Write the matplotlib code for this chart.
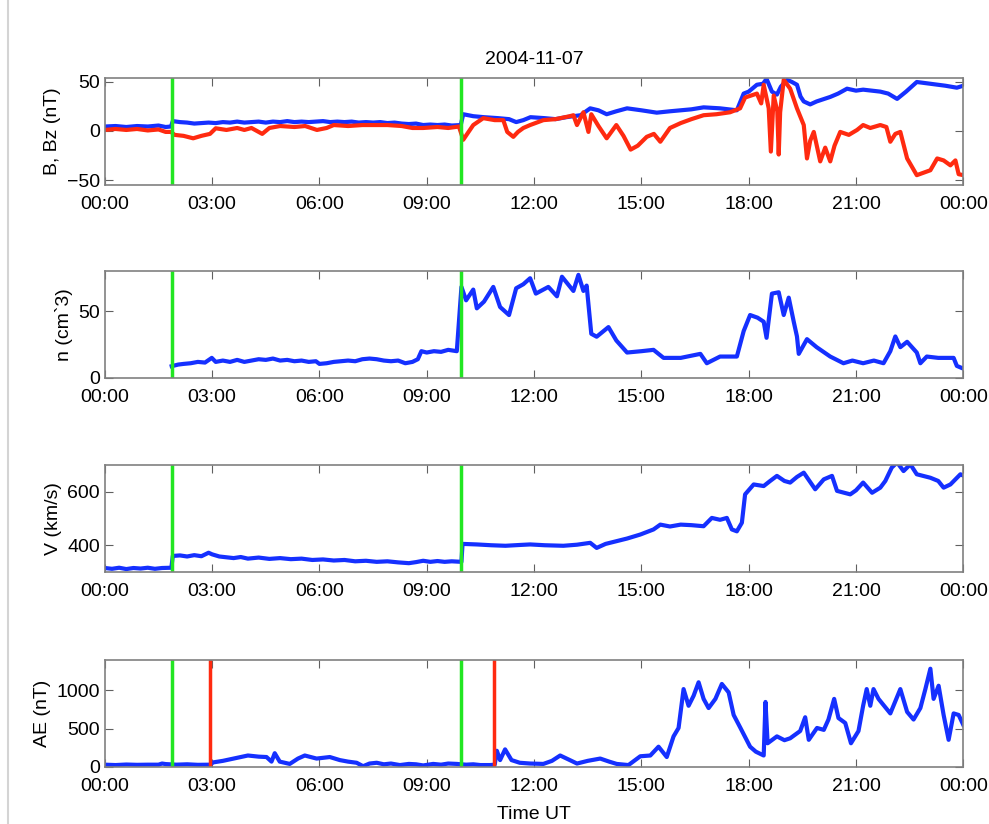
import numpy as np
import matplotlib
matplotlib.use('Agg')
import matplotlib.pyplot as plt
from matplotlib.lines import Line2D

plt.rcParams['font.family'] = ['Liberation Sans', 'DejaVu Sans']
plt.rcParams['font.size'] = 14

# 时间单位: 小时 (UT)
b_t = [0, 0.3, 0.6, 0.9, 1.2, 1.5, 1.7, 1.85,
       1.9, 2.1, 2.3, 2.5, 2.7, 2.9, 3.1, 3.3, 3.5, 3.7, 3.9, 4.1, 4.3, 4.5, 4.7, 4.9, 5.1, 5.3, 5.5, 5.7, 5.9, 6.1,
       6.3, 6.5, 6.7, 6.9, 7.1, 7.3, 7.5, 7.7, 7.9, 8.1, 8.3, 8.5, 8.7, 8.9, 9.1, 9.3, 9.5, 9.7, 9.95,
       10.02, 10.3, 10.6, 11.0, 11.3, 11.5, 11.7, 11.9, 12.3, 12.6, 12.9, 13.3, 13.57, 13.8, 14.03, 14.3, 14.6,
       15.0, 15.43, 15.8, 16.1, 16.4, 16.74, 17.2, 17.67, 17.86, 18.0, 18.23, 18.4, 18.5, 18.65, 18.79, 18.9, 19.07, 19.2,
       19.35, 19.45, 19.54, 19.72, 19.9, 20.28, 20.5, 20.75, 21.0, 21.2, 21.68, 21.9, 22.15, 22.4, 22.7, 23.08, 23.5, 23.82, 24.0]
b_val = [4.5, 5, 4, 5, 4.5, 5.5, 4, 4.5,
         10, 9, 8.5, 7.5, 8, 8.5, 8, 9, 8.5, 9.5, 8.5, 9, 9.5, 8.5, 9.5, 9, 10, 9, 9.5, 9, 9.5, 10,
         9, 9.5, 9, 9.5, 8.5, 9, 8.5, 9, 8, 8.5, 7.5, 7, 7.5, 6, 6.5, 6, 6.5, 5.5, 6,
         17, 15, 14, 13, 12, 9, 11, 14, 13, 12, 14, 16, 23, 21, 17, 20, 23,
         21, 18.6, 20, 21, 22, 24, 23, 21, 38, 40, 47, 48, 53, 40, 37, 45, 52, 50,
         47, 35, 30, 27, 30, 34.6, 38, 43, 41, 42, 40, 38, 32.6, 40, 49.8, 48, 46, 44, 46]

bz_t = [0, 0.3, 0.6, 0.9, 1.2, 1.5, 1.7, 1.85, 1.95, 2.2, 2.47, 2.7, 2.94, 3.1, 3.4, 3.7, 3.9, 4.1, 4.4, 4.6, 4.9, 5.3, 5.6,
        5.93, 6.2, 6.4, 6.8, 7.2, 7.6, 7.9, 8.3, 8.6, 8.9, 9.3, 9.6, 9.9, 10.02, 10.15, 10.3, 10.58, 10.9, 11.14, 11.25,
        11.42, 11.55, 11.7, 11.89, 12.26, 12.6, 13.0, 13.1, 13.2, 13.38, 13.52, 13.6, 13.8, 14.03, 14.3, 14.5, 14.7, 14.9,
        15.15, 15.35, 15.53, 15.8, 16.1, 16.4, 16.74, 17.1, 17.48, 17.76, 17.9, 18.23, 18.35, 18.42, 18.56, 18.62, 18.7,
        18.8, 18.84, 18.88, 18.98, 19.16, 19.35, 19.54, 19.63, 19.72, 19.82, 20.0, 20.14, 20.28, 20.4, 20.56, 20.8, 21.03,
        21.2, 21.4, 21.68, 21.85, 21.96, 22.1, 22.24, 22.43, 22.7, 23.08, 23.27, 23.45, 23.64, 23.78, 23.87, 24.0]
bz_val = [1, 2, 1, 2, 0.5, 1.5, -1, -1, -4, -5, -7.5, -5, -3, 2.7, 1, 3, 1, 3, -3, 3, 5, 4, 5,
          1, 3, 6, 5, 6, 6, 6, 5, 3, 3, 4, 3, 4.5, -9, -2, 6, 13, 11, 11, -1,
          -6, -1, 3, 6, 11, 12, 15, 16, 6, 19, -1, 17, 5, -7.5, 6, -5, -19, -15,
          -6, -3, -11, 3, 8, 12, 16, 17, 19, 23, 34, 38, 28, 47, 23, -21, 36,
          20, -24, 19, 52, 43, 23, 6, -28, -10, -1, -31, -17, -31, -15, -1, -4, 1,
          6, 3, 6, 4, -11, -3, -1, -28, -45, -40, -28, -30, -35, -30, -44, -45]

n_t = [1.87, 2.05, 2.2, 2.4, 2.6, 2.8, 2.99, 3.1, 3.3, 3.5, 3.7, 3.9, 4.1, 4.3, 4.5, 4.7, 4.9, 5.1, 5.3, 5.5, 5.7, 5.9,
       6.0, 6.2, 6.4, 6.6, 6.8, 7.0, 7.2, 7.4, 7.6, 7.8, 8.0, 8.2, 8.4, 8.6, 8.75, 8.85, 9.0, 9.2, 9.4, 9.6, 9.84,
       9.97, 10.1, 10.3, 10.4, 10.6, 10.86, 11.05, 11.3, 11.5, 11.7, 11.89, 12.05, 12.4, 12.64, 12.78, 13.1, 13.24, 13.38,
       13.47, 13.6, 13.75, 14.08, 14.3, 14.6, 15.0, 15.34, 15.62, 16.1, 16.65, 16.83, 17.2, 17.67, 17.86, 18.04, 18.25,
       18.42, 18.5, 18.65, 18.84, 18.98, 19.12, 19.26, 19.35, 19.4, 19.63, 19.9, 20.28, 20.65, 20.9, 21.2, 21.5, 21.77,
       21.96, 22.1, 22.24, 22.43, 22.7, 22.8, 22.98, 23.3, 23.73, 23.82, 24.0]
n_val = [8.8, 10, 10.5, 11, 12, 11.5, 15, 12, 13, 12, 13.5, 12, 13, 14, 13.5, 14.5, 13, 13.5, 12.5, 13, 12, 12.5,
         10.5, 11, 12, 12.5, 13, 12.5, 14, 14.5, 14, 13, 12.5, 13, 11, 12, 14, 20, 19, 20, 19.5, 21, 20,
         68, 58, 66, 52, 57, 68, 53, 47, 67, 70, 74.5, 63, 68, 61, 75.6, 65, 77, 65,
         69, 33, 30.8, 38, 28, 19, 20, 21, 15, 15, 18, 11, 16, 16, 35, 47, 45,
         42, 30, 63, 64, 47, 60, 42, 31, 18, 29, 23, 16, 11, 13, 11, 13, 11,
         20, 31, 23, 27, 19, 11, 16, 15, 15, 9, 7]

v_t = [0, 0.2, 0.4, 0.6, 0.8, 1.0, 1.2, 1.4, 1.6, 1.86,
       1.9, 2.1, 2.3, 2.5, 2.7, 2.9, 3.0, 3.2, 3.4, 3.6, 3.8, 4.0, 4.3, 4.6, 4.9, 5.2, 5.5, 5.8, 6.1, 6.4, 6.7, 7.0,
       7.3, 7.6, 7.9, 8.2, 8.5, 8.7, 8.9, 9.1, 9.3, 9.5, 9.7, 9.97,
       10.0, 10.4, 10.8, 11.2, 11.6, 11.89, 12.3, 12.82, 13.2, 13.57, 13.75, 14.0, 14.3, 14.6, 14.97, 15.34,
       15.53, 15.8, 16.1, 16.4, 16.74, 16.97, 17.2, 17.39, 17.53, 17.67, 17.81, 17.9, 18.14, 18.42, 18.6, 18.79, 19.0,
       19.16, 19.35, 19.54, 19.7, 19.86, 20.1, 20.33, 20.47, 20.84, 21.0, 21.2, 21.45, 21.68, 21.82, 22.0, 22.15, 22.33,
       22.52, 22.7, 23.08, 23.3, 23.45, 23.64, 23.92, 24.0]
v_val = [315, 312, 316, 311, 315, 313, 316, 312, 315, 316,
         360, 362, 358, 363, 359, 372, 366, 358, 355, 352, 356, 350, 354, 349, 352, 348, 350, 345, 347, 343, 345, 340,
         342, 338, 340, 336, 333, 337, 342, 338, 341, 338, 340, 338,
         405, 403, 400, 398, 401, 403, 400, 398, 402, 409, 390, 405, 415, 425, 440, 459,
         477, 470, 477, 475, 471, 502, 495, 502, 459, 452, 484, 590, 627, 621, 640, 659, 640,
         634, 655, 671, 640, 609, 646, 659, 603, 590, 605, 634, 596, 615, 640, 690, 709, 677,
         702, 665, 652, 640, 615, 627, 665, 660]

ae_t = [0, 0.3, 0.6, 0.9, 1.2, 1.5, 1.6, 1.7, 2.0, 2.3, 2.6, 2.94,
        3.03, 3.3, 3.6, 4.0, 4.3, 4.52, 4.66, 4.75, 4.89, 5.17, 5.4, 5.59, 5.92, 6.29,
        6.57, 6.8, 7.04, 7.22, 7.4, 7.6, 7.8, 8.0, 8.25, 8.5, 8.7, 8.9, 9.18, 9.4, 9.6, 9.84, 10.1, 10.3, 10.5, 10.77, 10.9,
        10.96, 11.05, 11.19, 11.37, 11.6,
        11.89, 12.26, 12.5, 12.73, 13.0, 13.2, 13.5, 13.85, 14.1, 14.31, 14.64, 14.97, 15.25, 15.48, 15.71, 15.9, 16.04,
        16.18, 16.32, 16.46, 16.6, 16.74, 16.88, 17.07, 17.25, 17.44, 17.58, 17.77, 18.04, 18.2, 18.42, 18.47, 18.53,
        18.79, 19.0, 19.16, 19.44, 19.58, 19.68, 19.91, 20.1, 20.23, 20.39, 20.51, 20.7, 20.86, 21.07, 21.2, 21.3, 21.4,
        21.49, 21.63, 21.96, 22.24, 22.43, 22.61, 22.8, 22.94, 23.08, 23.17, 23.31, 23.45, 23.59, 23.73, 23.87, 24.0]
ae_val = [30, 25, 32, 28, 30, 30, 45, 38, 30, 35, 28, 30,
          60, 80, 110, 150, 135, 130, 70, 180, 70, 40, 110, 150, 110, 130,
          90, 70, 55, 10, 45, 55, 35, 45, 25, 40, 35, 20, 40, 30, 45, 40, 30, 35, 25, 25, 30,
          212, 90, 230, 90, 55,
          45, 40, 80, 150, 90, 45, 80, 110, 70, 40, 25, 140, 150, 265, 130, 400, 510,
          1018, 800, 930, 1107, 890, 770, 890, 1085, 975, 680, 510, 265, 200, 150, 850, 310,
          400, 350, 375, 470, 650, 355, 510, 485, 620, 890, 640, 575, 310, 470, 800, 1018, 800,
          1018, 890, 700, 1018, 720, 620, 770, 1018, 1284, 890, 1062, 680, 355, 700, 680, 550]

green_t = [1.87, 9.97]
red_t = [2.95, 10.88]
xticks = [0, 3, 6, 9, 12, 15, 18, 21, 24]
xlabels = ['00:00', '03:00', '06:00', '09:00', '12:00', '15:00', '18:00', '21:00', '00:00']

blue = '#1530ff'
red = '#ff2a10'
green = '#22e622'

fig = plt.figure(figsize=(9.89, 8.24), dpi=100)
fig.add_artist(Line2D([0.008, 0.008], [0, 1], color='#d4d4d4', lw=1.5))

bottoms = [0.7755, 0.5413, 0.3058, 0.0692]
axes = [fig.add_axes([0.106, b, 0.868, 0.130]) for b in bottoms]

ax = axes[0]
ax.plot(b_t, b_val, color=blue, lw=3)
ax.plot(bz_t, bz_val, color=red, lw=3)
ax.set_ylim(-55, 54)
ax.set_yticks([-50, 0, 50])
ax.set_ylabel('B, Bz (nT)')
ax.set_title('2004-11-07', fontsize=14, pad=10)

ax = axes[1]
ax.plot(n_t, n_val, color=blue, lw=3)
ax.set_ylim(0, 80)
ax.set_yticks([0, 50])
ax.set_ylabel('n (cm`3)')

ax = axes[2]
ax.plot(v_t, v_val, color=blue, lw=3)
ax.set_ylim(300, 700)
ax.set_yticks([400, 600])
ax.set_ylabel('V (km/s)')

ax = axes[3]
ax.plot(ae_t, ae_val, color=blue, lw=3)
ax.set_ylim(0, 1400)
ax.set_yticks([0, 500, 1000])
ax.set_ylabel('AE (nT)')
ax.set_xlabel('Time UT', labelpad=8)
for t in red_t:
    ax.axvline(t, color=red, lw=2.5)

for ax in axes:
    for t in green_t:
        ax.axvline(t, color=green, lw=2.5)
    ax.set_xlim(0, 24)
    ax.set_xticks(xticks)
    ax.set_xticklabels(xlabels)
    ax.tick_params(direction='in', top=True, right=True, length=6, color='#606060')
    ax.tick_params(axis='x', pad=8)
    for s in ax.spines.values():
        s.set_color('#808080')
        s.set_linewidth(1.2)

fig.savefig('out.png', dpi=100)
